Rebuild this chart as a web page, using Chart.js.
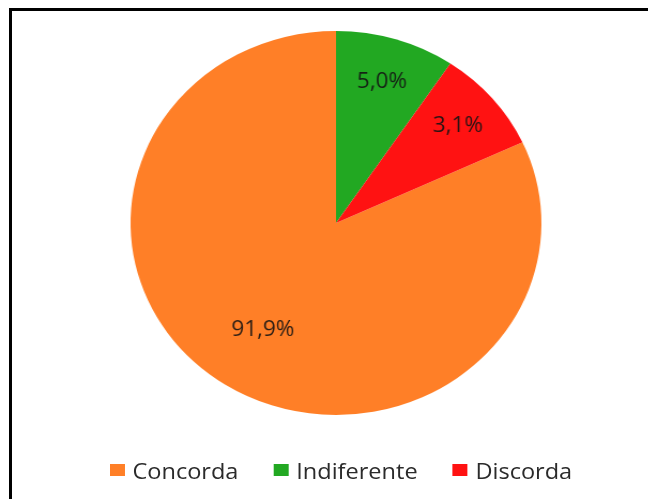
<!DOCTYPE html>
<html>
<head>
<meta charset="utf-8">
<script src="https://cdn.jsdelivr.net/npm/chart.js@4/dist/chart.umd.min.js"></script>
<style>
  body { margin: 0; background: #fff; width: 648px; height: 499px; overflow: hidden; position: relative; font-family: "Open Sans", sans-serif; }
  #frame { position: absolute; left: 9px; top: 8px; width: 700px; height: 560px; border-left: 3px solid #000; border-top: 3px solid #000; }
  #wrap { position: absolute; left: 0; top: 0; width: 606px; height: 499px; transform: scaleX(1.07); transform-origin: 0 0; }
  #legenda { position: absolute; left: 110px; top: 455px; display: flex; align-items: center; font-size: 22px; color: #2b2b2b; transform: scaleX(1.07); transform-origin: 0 0; }
  #legenda .item { display: flex; align-items: center; margin-right: 33px; }
  #legenda .caixa { width: 14px; height: 12px; margin-right: 7px; }
</style>
</head>
<body>
<div id="frame"></div>
<div id="wrap"><canvas id="grafico"></canvas></div>
<div id="legenda"></div>
<script>
// dados
const categorias = ["Concorda", "Indiferente", "Discorda"];
const valores = [81.9, 9.4, 8.7];          // tamanho das fatias como aparecem
const rotulos = ["91,9%", "5,0%", "3,1%"];  // textos impressos nas fatias
const cores = ["#FF7F27", "#22A822", "#FF1212"];

const total = valores.reduce((a, b) => a + b, 0);
// a fatia verde começa no topo, então a laranja começa onde a vermelha termina
const rotacao = 360 - 360 * valores[0] / total;

// rótulos dentro das fatias
const pluginRotulos = {
    id: "rotulos",
    afterDatasetsDraw(chart, args, opts) {
        const ctx = chart.ctx;
        const arcos = chart.getDatasetMeta(0).data;
        ctx.save();
        ctx.font = "21px 'Open Sans'";
        ctx.fillStyle = "rgba(20,20,20,0.9)";
        ctx.textAlign = "center";
        ctx.textBaseline = "middle";
        arcos.forEach((arco, i) => {
            const p = arco.getProps(["x", "y", "startAngle", "endAngle", "outerRadius"], true);
            const meio = (p.startAngle + p.endAngle) / 2;
            const r = p.outerRadius * opts.raio[i];
            ctx.fillText(rotulos[i], p.x + Math.cos(meio) * r, p.y + Math.sin(meio) * r);
        });
        ctx.restore();
    }
};

new Chart(document.getElementById("grafico"), {
    type: "pie",
    data: {
        labels: categorias,
        datasets: [{
            data: valores,
            backgroundColor: cores,
            borderWidth: 0
        }]
    },
    options: {
        responsive: true,
        maintainAspectRatio: false,
        animation: false,
        rotation: rotacao,
        layout: { padding: { top: 31, bottom: 84, left: 22, right: 0 } },
        plugins: {
            legend: { display: false },
            tooltip: { enabled: false },
            rotulos: { raio: [0.66, 0.77, 0.78] }
        }
    },
    plugins: [pluginRotulos]
});

// legenda em HTML
const legenda = document.getElementById("legenda");
categorias.forEach((nome, i) => {
    const item = document.createElement("div");
    item.className = "item";
    item.innerHTML = `<span class="caixa" style="background:${cores[i]}"></span><span>${nome}</span>`;
    legenda.appendChild(item);
});
</script>
</body>
</html>
